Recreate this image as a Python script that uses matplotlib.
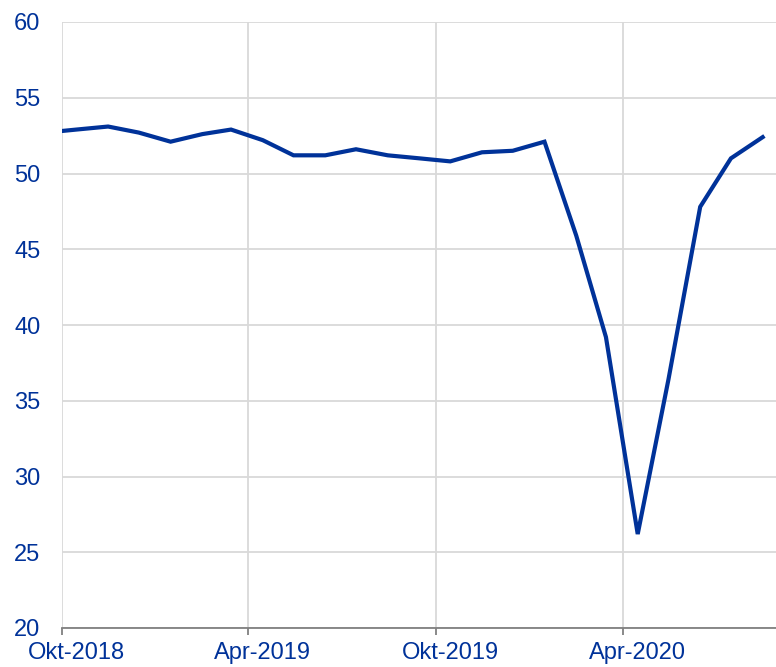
import matplotlib
matplotlib.use("Agg")
import matplotlib.pyplot as plt
import matplotlib.dates as mdates
import pandas as pd
import numpy as np

plt.rcParams['font.family'] = ['Liberation Sans', 'DejaVu Sans']

# Monthly observations (plotted mid-month)
months = pd.date_range("2018-09-01", periods=24, freq="MS") + pd.Timedelta(days=14)
values = [52.7, 52.9, 53.1, 52.7, 52.1, 52.6, 52.9, 52.2, 51.2, 51.2, 51.6, 51.2,
          51.0, 50.8, 51.4, 51.5, 52.1, 45.9, 39.2, 26.2, 36.4, 47.8, 51.0, 52.4]
tick_dates = pd.to_datetime(["2018-10-01", "2019-04-01", "2019-10-01", "2020-04-01"])
label_dates = tick_dates + pd.Timedelta(days=14)
tick_labels = ["Okt-2018", "Apr-2019", "Okt-2019", "Apr-2020"]
y_ticks = [20, 25, 30, 35, 40, 45, 50, 55, 60]

blue = "#003299"
grid_c = "#d9d9d9"

fig = plt.figure(figsize=(7.76, 6.67), dpi=100)
ax = fig.add_axes([62/776, 1 - 628/667, (776 - 62)/776, (628 - 22)/667])

ax.plot(months, values, color=blue, lw=3.0, solid_joinstyle="miter", zorder=3)

ax.set_xlim(pd.Timestamp("2018-10-01"), pd.Timestamp("2018-10-01") + pd.Timedelta(days=697))
ax.set_ylim(20, 60)

ax.set_yticks(y_ticks)
ax.set_yticklabels([str(v) for v in y_ticks])
ax.tick_params(axis="y", length=0, pad=15.5, labelsize=17, labelcolor=blue)

ax.set_xticks(tick_dates)
ax.set_xticklabels([""] * len(tick_dates))
ax.set_xticks(label_dates, minor=True)
ax.set_xticklabels(tick_labels, minor=True)
ax.tick_params(axis="x", which="major", length=5, width=1.3, color="#808080")
ax.tick_params(axis="x", which="minor", length=0, pad=10, labelsize=17, labelcolor=blue)

ax.grid(True, which="major", color=grid_c, lw=1.3, zorder=0)
ax.set_axisbelow(True)

for s in ["top", "right", "left"]:
    ax.spines[s].set_visible(False)
ax.spines["bottom"].set_color("#808080")
ax.spines["bottom"].set_linewidth(1.3)

fig.savefig("out.png", dpi=100)
